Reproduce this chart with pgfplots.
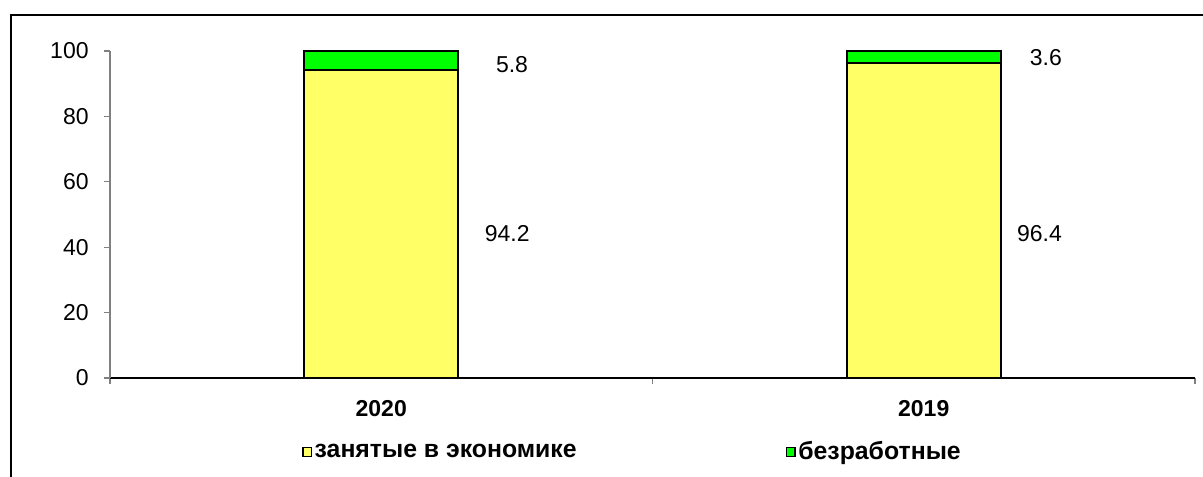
\documentclass[border=0pt]{standalone}
\usepackage{pgfplots}
\pgfplotsset{compat=1.18}
\usepackage{fontspec}
\setmainfont{Liberation Sans}
\definecolor{yel}{HTML}{FFFF66}
\definecolor{grn}{HTML}{00FF00}
\definecolor{axgray}{HTML}{808080}
\begin{document}
\begin{tikzpicture}[x=0.75pt,y=0.75pt]
\useasboundingbox (-110,-99) rectangle (1093,378);
\draw[line width=2pt] (-99,-130) -- (-99,363) -- (1130,363);
\pgfplotsset{
  common/.style={
    at={(0,0)}, anchor=south west,
    scale only axis, width=813.75pt, height=245.25pt,
    xmin=-0.5, xmax=1.5, ymin=0, ymax=100,
  }
}
\begin{axis}[common,
  ybar stacked, bar width=115.5pt,
  axis lines*=left,
  x axis line style={black, line width=0.9pt},
  y axis line style={axgray, line width=0.9pt},
  tick align=outside,
  xtick={0,1}, xticklabels={2020,2019},
  major x tick style={draw=none},
  minor xtick={-0.5,0.5,1.5},
  minor x tick style={axgray, line width=0.9pt},
  minor tick length=4.5pt,
  ytick={0,20,40,60,80,100},
  y tick style={axgray, line width=0.9pt},
  major tick length=4.5pt,
  tick label style={font=\fontsize{17.25}{20}\selectfont},
  /pgf/number format/assume math mode=true,
  xticklabel style={font=\fontsize{17.25}{20}\selectfont\bfseries, yshift=-9pt},
  yticklabel style={xshift=-8pt},
  legend columns=2,
  legend style={draw=none, fill=none, at={(0.177,-0.226)}, anchor=west,
    font=\fontsize{18.6}{21}\selectfont\bfseries, inner sep=0pt,
    /tikz/every even column/.append style={column sep=155pt}},
  legend image code/.code={\draw[#1, line width=0.9pt] (0pt,-3.2pt) rectangle (6.4pt,3.2pt);},
]
\addplot[fill=yel, draw=black, line width=1.5pt] coordinates {(0,94.2) (1,96.4)};
\addlegendentry{занятые в экономике}
\addplot[fill=grn, draw=black, line width=1.5pt] coordinates {(0,5.8) (1,3.6)};
\addlegendentry{безработные}
\end{axis}
\begin{axis}[common, hide axis, clip=false]
\addplot[only marks, mark=none, nodes near coords, point meta=explicit symbolic,
  every node near coord/.append style={anchor=east, inner sep=0pt,
    font=\fontsize{17.25}{20}\selectfont}]
  coordinates {(0.274,44.3)[94.2] (0.271,95.7)[5.8] (1.255,44.3)[96.4] (1.255,98.0)[3.6]};
\end{axis}
\end{tikzpicture}
\end{document}
